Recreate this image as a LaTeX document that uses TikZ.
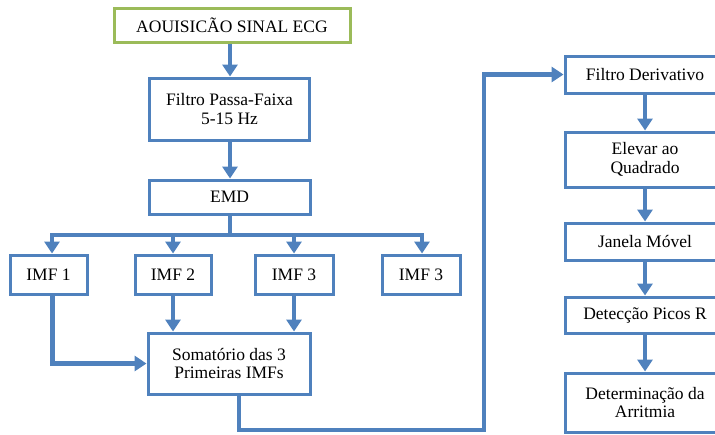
\documentclass[tikz,border=0pt]{standalone}
\usepackage{fontspec}
\setmainfont{Liberation Serif}
\usetikzlibrary{arrows.meta}
\definecolor{bl}{HTML}{4F81BD}
\definecolor{gr}{HTML}{9BBB59}
\begin{document}
\begin{tikzpicture}[x=1pt,y=-1pt,
 box/.style={draw=bl, line width=3pt, fill=white, align=center, font=\fontsize{17.5}{18.5}\selectfont, inner sep=0pt},
 arr/.style={draw=bl, line width=4.5pt, -{Triangle[width=15pt,length=12pt]}},
 ln/.style={draw=bl, line width=4.5pt}]
\useasboundingbox (0,0) rectangle (715,434);
% left column
\node[box, draw=gr, minimum width=236pt, minimum height=34pt] (acq) at (232,25) {AOUISICÃO SINAL ECG};
\node[box, minimum width=160pt, minimum height=62pt] (fpf) at (229.5,109) {Filtro Passa-Faixa\\5-15 Hz};
\node[box, minimum width=161pt, minimum height=34pt] (emd) at (229.5,197) {EMD};
\node[box, minimum width=77pt, minimum height=39pt] (imf1) at (48.5,274.5) {IMF 1};
\node[box, minimum width=76pt, minimum height=39pt] (imf2) at (173,274.5) {IMF 2};
\node[box, minimum width=78pt, minimum height=39pt] (imf3) at (294,274.5) {IMF 3};
\node[box, minimum width=78pt, minimum height=39pt] (imf4) at (421,274.5) {IMF 3};
\node[box, minimum width=162pt, minimum height=61pt] (som) at (229,363.5) {Somatório das 3\\Primeiras IMFs};
% right column
\node[box, minimum width=160pt, minimum height=37pt] (fd) at (645,74.5) {Filtro Derivativo};
\node[box, minimum width=160pt, minimum height=55pt] (eq) at (645,159.5) {Elevar ao\\Quadrado};
\node[box, minimum width=160pt, minimum height=37pt] (jm) at (645,241.5) {Janela Móvel};
\node[box, minimum width=160pt, minimum height=36pt] (dp) at (645,315) {Detecção Picos R};
\node[box, minimum width=160pt, minimum height=59pt] (da) at (645,402.5) {Determinação da\\Arritmia};
% connectors
\coordinate (br) at (230,235);
\coordinate (c1) at (239,430);
\coordinate (c2) at (484,430);
\draw[arr] (acq.south -| br) -- (fpf.north -| br);
\draw[arr] (fpf.south -| br) -- (emd.north -| br);
\draw[ln] (emd.south -| br) -- (br);
\draw[arr] (br) -| ([xshift=3.5pt]imf1.north);
\draw[arr] (br) -| (imf2.north);
\draw[arr] (br) -| (imf3.north);
\draw[arr] (br) -| ([xshift=1pt]imf4.north);
\draw[arr] ([xshift=4pt]imf1.south) |- (som.west);
\draw[arr] (imf2.south) -- (imf2.south |- som.north);
\draw[arr] (imf3.south) -- (imf3.south |- som.north);
\draw[arr] (som.south -| c1) |- (c2) |- (fd.west);
\draw[arr] (fd) -- (eq);
\draw[arr] (eq) -- (jm);
\draw[arr] (jm) -- (dp);
\draw[arr] (dp) -- (da);
\end{tikzpicture}
\end{document}
